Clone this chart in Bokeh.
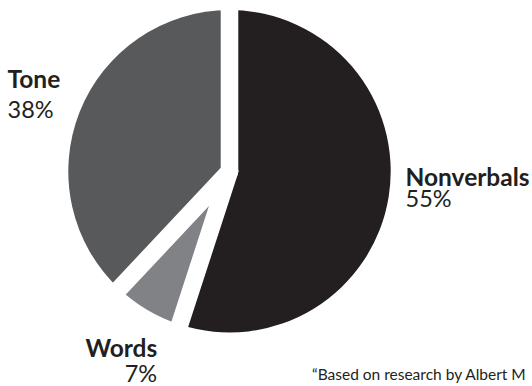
import math
from bokeh.plotting import figure
from bokeh.models import ColumnDataSource, Range1d
from bokeh.core.properties import value
from bokeh.embed import file_html
from bokeh.resources import INLINE

# ---- data ----
categories = ["Nonverbals", "Words", "Tone"]
shares = [55, 7, 38]
colors = ["#231f20", "#808285", "#58595b"]
footnote = "\u201cBased on research by Albert M"

# ---- layout (pixel coordinates of the picture) ----
W, H = 532, 386
CX, CY_PIX, R = 229.0, 170.8, 161.2
GAP = 17.6
FONT = value("Lato")
INK = "#231f20"
NAME_SIZE, PCT_SIZE, NOTE_SIZE = 24.5, 23.5, 15.5
BASE_FIX = 0.38  # baseline correction (em) for the text renderer
label_pos = {  # x, name baseline, percent baseline, align
    "Nonverbals": (405, 185, 206.5, "left"),
    "Words": (156.7, 356.5, 381, "right"),
    "Tone": (7, 87.3, 117.3, "left"),
}


def py(pix):
    return H - pix


def ty(pix, size):
    return H - pix + BASE_FIX * size


p = figure(width=W, height=H, x_range=Range1d(0, W), y_range=Range1d(0, H),
           output_backend="svg", toolbar_location=None,
           x_axis_type=None, y_axis_type=None, min_border=0,
           outline_line_color=None, background_fill_color="white",
           border_fill_color="white")
p.grid.visible = False

cy = py(CY_PIX)
total = float(sum(shares))
starts, ends, bounds = [], [], []
acc = 0.0
for s in shares:
    a0 = acc / total * 2 * math.pi
    acc += s
    a1 = acc / total * 2 * math.pi
    # clockwise from 12 o'clock -> bokeh anticlockwise from +x
    starts.append(math.pi / 2 - a1)
    ends.append(math.pi / 2 - a0)
    bounds.append(math.pi / 2 - a0)

src = ColumnDataSource(dict(x=[CX] * len(shares), y=[cy] * len(shares),
                            start=starts, end=ends, color=colors,
                            cat=categories))
p.wedge(x="x", y="y", radius=R, start_angle="start", end_angle="end",
        fill_color="color", line_color=None, source=src)

p.ray(x=[CX] * len(bounds), y=[cy] * len(bounds), length=R + 25,
      angle=bounds, line_color="white", line_width=GAP, line_cap="round")

for cat, val in zip(categories, shares):
    x, yb1, yb2, align = label_pos[cat]
    p.text(x=[x], y=[ty(yb1, NAME_SIZE)], text=[cat], text_font=FONT,
           text_font_size=f"{NAME_SIZE}px", text_font_style="bold",
           text_color=INK, text_align=align, text_baseline="alphabetic")
    p.text(x=[x], y=[ty(yb2, PCT_SIZE)], text=[f"{val}%"], text_font=FONT,
           text_font_size=f"{PCT_SIZE}px", text_font_style="normal",
           text_color=INK, text_align=align, text_baseline="alphabetic")

p.text(x=[311.5], y=[ty(379.5, NOTE_SIZE)], text=[footnote], text_font=FONT,
       text_font_size=f"{NOTE_SIZE}px", text_color=INK, text_align="left",
       text_baseline="alphabetic")

open("out.html", "w").write(file_html(p, INLINE))
